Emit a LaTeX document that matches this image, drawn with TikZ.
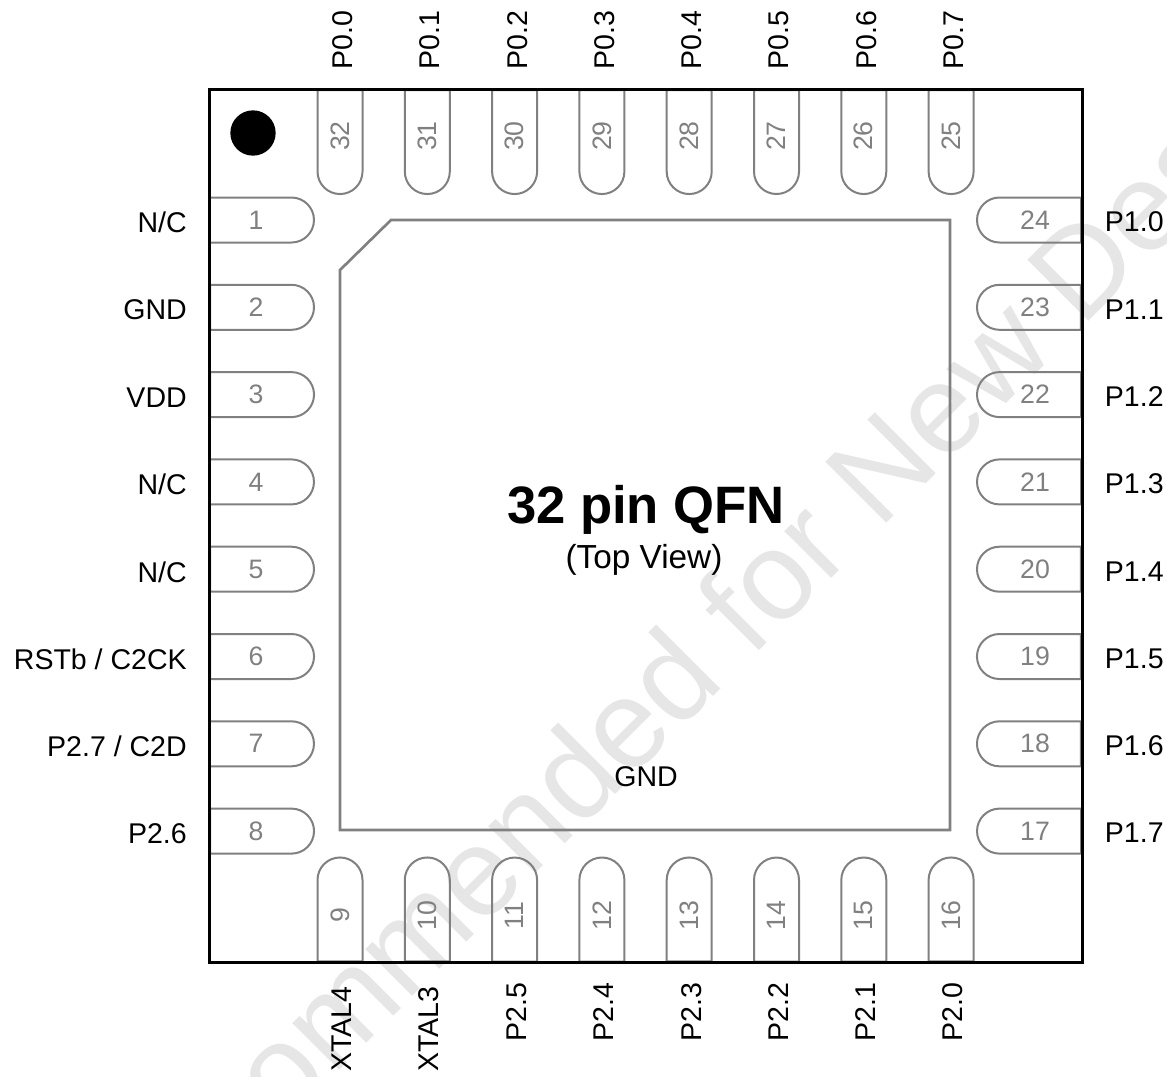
\documentclass[tikz,border=0pt]{standalone}
\usepackage{fontspec}
\setmainfont{Liberation Sans}
\usetikzlibrary{shapes.misc}
\definecolor{pingray}{HTML}{808080}
\definecolor{markgray}{HTML}{E6E6E6}
\tikzset{
    pinbase/.style = {draw=pingray, line width=1.5pt, rounded rectangle, inner sep=0pt, node distance=0pt,
      minimum width=78pt, minimum height=33.75pt, text=pingray, font=\fontsize{20}{24}\selectfont},
    pinflatwest/.style = {pinbase, rounded rectangle west arc=none},
    pinflateast/.style = {pinbase, rounded rectangle east arc=none},
    textnode/.style = {draw=none, fill=none, rectangle, inner sep=0pt, node distance=0pt,
      font=\fontsize{21.4}{24}\selectfont},
    labelwest/.style = {textnode, anchor=east, xshift=-55.5pt, yshift=-2pt},
    labeleast/.style = {textnode, anchor=west, xshift=56pt, yshift=-1.5pt},
    labelnorth/.style = {textnode, xshift=2pt, yshift=75.5pt, rotate=90},
    labelsouth/.style = {textnode, xshift=1.5pt, yshift=-76pt, rotate=90},
    labelxtal/.style = {textnode, xshift=1pt, yshift=-89pt, rotate=90}
}
\newcommand{\numflatwest}[1]{#1\kern7.5pt}
\newcommand{\numflateast}[1]{\kern7.5pt#1}

\begin{document}
\begin{tikzpicture}[x=0.75pt, y=-0.75pt]
    \useasboundingbox (0,0) rectangle (1167,1076);

    \node [name=watermark, textnode, text=markgray, rotate=45, font=\fontsize{94}{100}\selectfont]
        at (660,704) {Not Recommended for New Designs};

    \node [name=pin1, pinflatwest] at (261,220) {\numflatwest{1}};
    \node [name=pin2, pinflatwest] at (261,307.3) {\numflatwest{2}};
    \node [name=pin3, pinflatwest] at (261,394.6) {\numflatwest{3}};
    \node [name=pin4, pinflatwest] at (261,481.9) {\numflatwest{4}};
    \node [name=pin5, pinflatwest] at (261,569.2) {\numflatwest{5}};
    \node [name=pin6, pinflatwest] at (261,656.5) {\numflatwest{6}};
    \node [name=pin7, pinflatwest] at (261,743.8) {\numflatwest{7}};
    \node [name=pin8, pinflatwest] at (261,831.1) {\numflatwest{8}};

    \node [name=pin9, pinflatwest, rotate=90] at (340,910.5) {\numflatwest{9}};
    \node [name=pin10, pinflatwest, rotate=90] at (427.3,910.5) {\numflatwest{10}};
    \node [name=pin11, pinflatwest, rotate=90] at (514.6,910.5) {\numflatwest{11}};
    \node [name=pin12, pinflatwest, rotate=90] at (601.9,910.5) {\numflatwest{12}};
    \node [name=pin13, pinflatwest, rotate=90] at (689.2,910.5) {\numflatwest{13}};
    \node [name=pin14, pinflatwest, rotate=90] at (776.5,910.5) {\numflatwest{14}};
    \node [name=pin15, pinflatwest, rotate=90] at (863.8,910.5) {\numflatwest{15}};
    \node [name=pin16, pinflatwest, rotate=90] at (951.1,910.5) {\numflatwest{16}};

    \node [name=pin17, pinflateast] at (1030,831.1) {\numflateast{17}};
    \node [name=pin18, pinflateast] at (1030,743.8) {\numflateast{18}};
    \node [name=pin19, pinflateast] at (1030,656.5) {\numflateast{19}};
    \node [name=pin20, pinflateast] at (1030,569.2) {\numflateast{20}};
    \node [name=pin21, pinflateast] at (1030,481.9) {\numflateast{21}};
    \node [name=pin22, pinflateast] at (1030,394.6) {\numflateast{22}};
    \node [name=pin23, pinflateast] at (1030,307.3) {\numflateast{23}};
    \node [name=pin24, pinflateast] at (1030,220) {\numflateast{24}};

    \node [name=pin25, pinflateast, rotate=90] at (951.1,141) {\numflateast{25}};
    \node [name=pin26, pinflateast, rotate=90] at (863.8,141) {\numflateast{26}};
    \node [name=pin27, pinflateast, rotate=90] at (776.5,141) {\numflateast{27}};
    \node [name=pin28, pinflateast, rotate=90] at (689.2,141) {\numflateast{28}};
    \node [name=pin29, pinflateast, rotate=90] at (601.9,141) {\numflateast{29}};
    \node [name=pin30, pinflateast, rotate=90] at (514.6,141) {\numflateast{30}};
    \node [name=pin31, pinflateast, rotate=90] at (427.3,141) {\numflateast{31}};
    \node [name=pin32, pinflateast, rotate=90] at (340,141) {\numflateast{32}};

    \node [name=lab1, left of = pin1, labelwest] {N/C};
    \node [name=lab2, left of = pin2, labelwest] {GND};
    \node [name=lab3, left of = pin3, labelwest] {VDD};
    \node [name=lab4, left of = pin4, labelwest] {N/C};
    \node [name=lab5, left of = pin5, labelwest] {N/C};
    \node [name=lab6, left of = pin6, labelwest] {RSTb / C2CK};
    \node [name=lab7, left of = pin7, labelwest] {P2.7 / C2D};
    \node [name=lab8, left of = pin8, labelwest] {P2.6};

    \node [name=lab9, below of = pin9, labelxtal] {XTAL4};
    \node [name=lab10, below of = pin10, labelxtal] {XTAL3};
    \node [name=lab11, below of = pin11, labelsouth] {P2.5};
    \node [name=lab12, below of = pin12, labelsouth] {P2.4};
    \node [name=lab13, below of = pin13, labelsouth] {P2.3};
    \node [name=lab14, below of = pin14, labelsouth] {P2.2};
    \node [name=lab15, below of = pin15, labelsouth] {P2.1};
    \node [name=lab16, below of = pin16, labelsouth] {P2.0};

    \node [name=lab17, right of = pin17, labeleast] {P1.7};
    \node [name=lab18, right of = pin18, labeleast] {P1.6};
    \node [name=lab19, right of = pin19, labeleast] {P1.5};
    \node [name=lab20, right of = pin20, labeleast] {P1.4};
    \node [name=lab21, right of = pin21, labeleast] {P1.3};
    \node [name=lab22, right of = pin22, labeleast] {P1.2};
    \node [name=lab23, right of = pin23, labeleast] {P1.1};
    \node [name=lab24, right of = pin24, labeleast] {P1.0};

    \node [name=lab25, above of = pin25, labelnorth] {P0.7};
    \node [name=lab26, above of = pin26, labelnorth] {P0.6};
    \node [name=lab27, above of = pin27, labelnorth] {P0.5};
    \node [name=lab28, above of = pin28, labelnorth] {P0.4};
    \node [name=lab29, above of = pin29, labelnorth] {P0.3};
    \node [name=lab30, above of = pin30, labelnorth] {P0.2};
    \node [name=lab31, above of = pin31, labelnorth] {P0.1};
    \node [name=lab32, above of = pin32, labelnorth] {P0.0};

    \draw [draw=pingray, line width=2pt, line join=miter] (340,270) -- (391,220) -- (950,220) -- (950,830) -- (340,830) -- cycle;
    \node [name=title, textnode, font=\fontsize{39.5}{44}\bfseries] at (646,510) {32 pin QFN};
    \node [name=view, textnode, font=\fontsize{25}{28}\selectfont] at (644,560) {(Top View)};
    \node [name=gnd, textnode] at (646,777) {GND};

    \node [name=dot, circle, fill=black, minimum size=34pt, inner sep=0pt] at (253,133) {};
    \draw [line width=2.25pt] (209,89) rectangle (1082.5,962.5);
\end{tikzpicture}
\end{document}
